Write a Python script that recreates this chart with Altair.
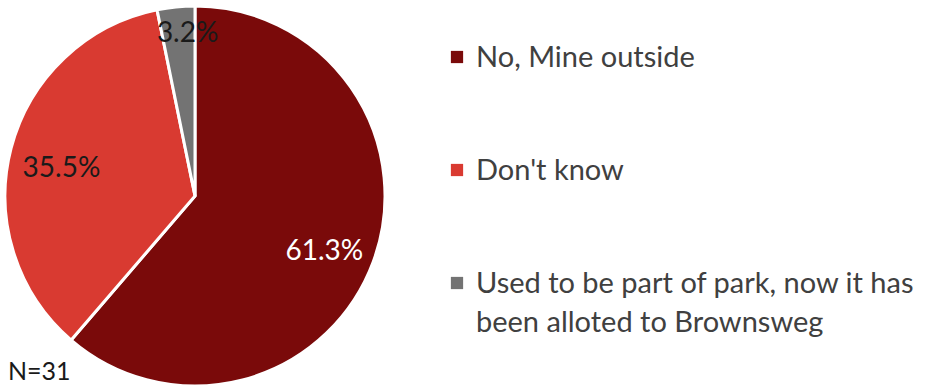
import altair as alt
import pandas as pd

categories = ["No, Mine outside", "Don't know", "Used to be part of park, now it has\nbeen alloted to Brownsweg"]
values = [61.3, 35.5, 3.2]
labels = ["61.3%", "35.5%", "3.2%"]
colors = ["#7A0A0A", "#D93A31", "#737373"]
order = [0, 1, 2]
note = "N=31"

df = pd.DataFrame({"cat": categories, "val": values, "lab": labels, "idx": order})

FONT = "Lato"
CX, CY, R = 195, 196, 190

base = alt.Chart(df).encode(
    theta=alt.Theta("val:Q", stack=True),
    order=alt.Order("idx:Q"),
)

color_scale = alt.Scale(domain=categories, range=colors)

pie = base.mark_arc(radius=R, x=CX, y=CY, stroke="white", strokeWidth=3).encode(
    color=alt.Color("cat:N", scale=color_scale, legend=None)
)

txt_main = base.mark_text(radius=138, x=CX, y=CY, dy=8, font=FONT, fontSize=28).encode(
    text=alt.condition(alt.datum.idx < 2, alt.Text("lab:N"), alt.value("")),
    color=alt.condition(alt.datum.idx == 0, alt.value("white"), alt.value("#1a1a1a")),
)

txt_small = base.mark_text(radius=163, x=CX, y=CY, dx=9, font=FONT, fontSize=28, color="#1a1a1a").encode(
    text=alt.condition(alt.datum.idx == 2, alt.Text("lab:N"), alt.value("")),
)

yscale = alt.Scale(type="point", domain=categories, range=[57, 283], padding=0)

leg_sq = alt.Chart(df).mark_square(size=150, opacity=1, filled=True).encode(
    x=alt.value(457),
    y=alt.Y("cat:N", scale=yscale, axis=None),
    color=alt.Color("cat:N", scale=color_scale, legend=None),
)

leg_txt = alt.Chart(df).mark_text(
    align="left", baseline="alphabetic", dy=10, font=FONT, fontSize=29, color="#404040",
    lineBreak="\n", lineHeight=39,
).encode(
    x=alt.value(476),
    y=alt.Y("cat:N", scale=yscale, axis=None),
    text="cat:N",
)

note_txt = alt.Chart(df).mark_text(align="left", baseline="middle", font=FONT, fontSize=25, color="#1a1a1a").encode(
    x=alt.value(8), y=alt.value(372), text=alt.value(note)
).transform_filter(alt.datum.idx == 0)

chart = alt.layer(pie, txt_main, txt_small, leg_sq, leg_txt, note_txt).properties(
    width=927, height=387, padding=0, autosize=alt.AutoSizeParams(type="none")
).configure_view(stroke=None)

chart.save("out.html", embed_options={"renderer": "svg", "actions": False})
